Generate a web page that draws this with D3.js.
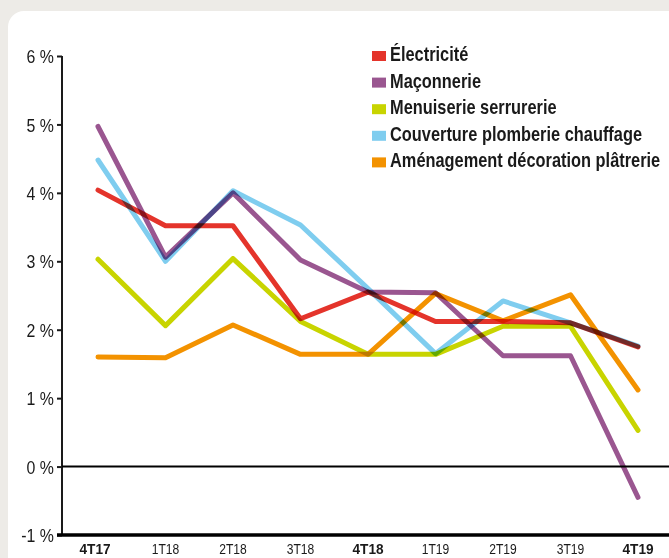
<!DOCTYPE html>
<html>
<head>
<meta charset="utf-8">
<script src="https://cdn.jsdelivr.net/npm/d3@7"></script>
<style>
  html, body { margin: 0; padding: 0; background: #edebe7; }
  svg { display: block; }
  text { font-family: "Liberation Sans", Arial, sans-serif; fill: #1a1a1a; }
</style>
</head>
<body>
<svg id="chart"></svg>
<script>
// quarters on the x axis
const quarters = ["4T17", "1T18", "2T18", "3T18", "4T18", "1T19", "2T19", "3T19", "4T19"];
const boldQuarters = ["4T17", "4T18", "4T19"];

// series values, in %
const electricite = [4.04, 3.52, 3.52, 2.16, 2.55, 2.12, 2.12, 2.10, 1.75];
const maconnerie = [4.97, 3.06, 4.00, 3.02, 2.55, 2.54, 1.62, 1.62, -0.45];
const menuiserie = [3.03, 2.06, 3.04, 2.12, 1.64, 1.64, 2.05, 2.05, 0.53];
const couverture = [4.48, 3.00, 4.03, 3.53, 2.60, 1.65, 2.42, 2.10, 1.76];
const amenagement = [1.60, 1.59, 2.07, 1.64, 1.64, 2.53, 2.13, 2.51, 1.12];

const seriesNames = [
  "Électricité",
  "Maçonnerie",
  "Menuiserie serrurerie",
  "Couverture plomberie chauffage",
  "Aménagement décoration plâtrerie"
];
const seriesValues = [electricite, maconnerie, menuiserie, couverture, amenagement];
const colors = ["#e4342b", "#9a5690", "#c8d400", "#7fcdef", "#f39200"];

const yTicks = [-1, 0, 1, 2, 3, 4, 5, 6];

const width = 669;
const height = 558;

// no condensed face installed, so squeeze the text horizontally
const squeeze = 0.84;

const svg = d3.select("#chart")
  .attr("width", width)
  .attr("height", height);

// white rounded panel
svg.append("rect")
  .attr("x", 8)
  .attr("y", 11)
  .attr("width", 675)
  .attr("height", 570)
  .attr("rx", 16)
  .attr("fill", "#ffffff");

const x = d3.scalePoint()
  .domain(quarters)
  .range([98, 638]);

const y = d3.scaleLinear()
  .domain([-1, 6])
  .range([535, 56]);

// y axis
const yAxis = svg.append("g")
  .attr("transform", "translate(62,0)")
  .call(d3.axisLeft(y).tickValues(yTicks).tickSize(5).tickFormat(d => d + " %"));
yAxis.select(".domain").attr("stroke", "#1a1a1a").attr("stroke-width", 2).attr("d", `M0,${y(6)}V${y(-1)}`);
yAxis.selectAll(".tick line").attr("stroke", "#1a1a1a").attr("stroke-width", 2);
yAxis.selectAll(".tick text")
  .attr("x", -8 / 0.86)
  .attr("dy", "0.36em")
  .attr("transform", "scale(0.86,1)")
  .attr("font-size", 18.5)
  .attr("fill", "#222");

// zero line
svg.append("line")
  .attr("x1", 62).attr("x2", width)
  .attr("y1", y(0)).attr("y2", y(0))
  .attr("stroke", "#000").attr("stroke-width", 2);

// x axis line
svg.append("line")
  .attr("x1", 57).attr("x2", width)
  .attr("y1", y(-1)).attr("y2", y(-1))
  .attr("stroke", "#000").attr("stroke-width", 3.5);

// x labels
svg.append("g")
  .selectAll("text")
  .data(quarters)
  .join("text")
  .attr("transform", d => {
    const bold = boldQuarters.includes(d);
    return `translate(${x(d) - (d === "4T17" ? 3 : 0)},554) scale(${bold ? 0.88 : 0.78},1)`;
  })
  .attr("text-anchor", "middle")
  .attr("font-size", 15.5)
  .attr("font-weight", d => boldQuarters.includes(d) ? "bold" : "normal")
  .text(d => d);

// lines
const line = d3.line()
  .x((d, i) => x(quarters[i]))
  .y(d => y(d));

svg.append("g")
  .selectAll("path")
  .data(seriesValues)
  .join("path")
  .attr("d", line)
  .attr("fill", "none")
  .attr("stroke", (d, i) => colors[i])
  .attr("stroke-width", 5)
  .attr("stroke-linejoin", "round")
  .attr("stroke-linecap", "round")
  .style("mix-blend-mode", "multiply");

// legend
const legend = svg.append("g")
  .attr("transform", "translate(372,46)");

const item = legend.selectAll("g")
  .data(seriesNames)
  .join("g")
  .attr("transform", (d, i) => `translate(0,${i * 26.6})`);

item.append("rect")
  .attr("x", 0)
  .attr("y", 5)
  .attr("width", 14)
  .attr("height", 10)
  .attr("fill", (d, i) => colors[i]);

item.append("text")
  .attr("transform", `translate(18,15) scale(${squeeze},1)`)
  .attr("font-size", 19.5)
  .attr("font-weight", "bold")
  .text(d => d);
</script>
</body>
</html>
